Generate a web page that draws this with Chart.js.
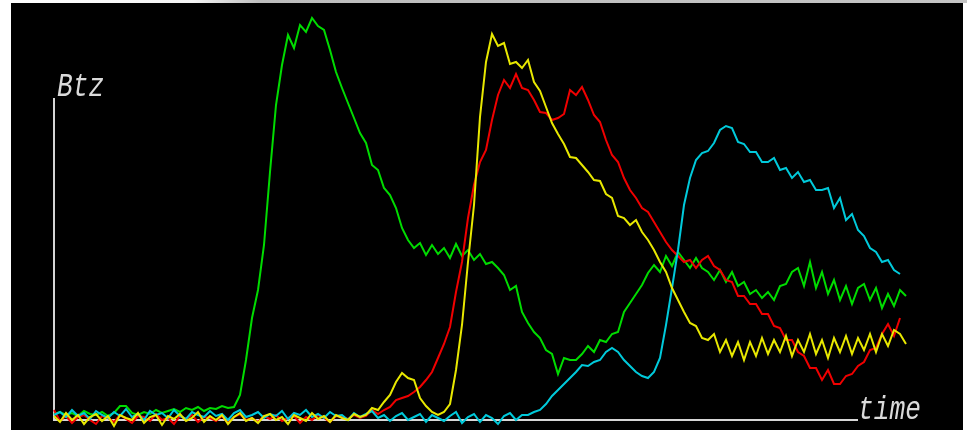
<!DOCTYPE html>
<html>
<head>
<meta charset="utf-8">
<script src="https://cdn.jsdelivr.net/npm/chart.js@4.4.1/dist/chart.umd.min.js"></script>
<style>
  html, body { margin: 0; padding: 0; background: #fff; }
  #wrap { position: relative; width: 967px; height: 430px; }
</style>
</head>
<body>
<div id="wrap"><canvas id="c" width="967" height="430"></canvas></div>
<script>
// readings of the four channels, one sample per step along "time"
var greenBtz = [4,6,3,5,2,7,4,3,6,2,5,12,12,5,3,6,4,8,5,7,9,6,10,8,11,7,10,9,12,10,
  11,23,58,100,128,173,246,313,353,383,370,393,386,400,392,388,368,346,330,315,
  300,285,275,253,248,230,223,210,190,178,170,175,163,173,164,170,160,174,162,168,
  158,164,154,156,150,143,128,132,106,95,86,80,68,64,44,60,58,58,64,72,
  66,78,76,84,86,106,115,124,133,145,153,146,162,152,166,158,150,160,150,146,
  138,148,136,146,132,136,124,128,120,126,118,132,134,146,150,132,156,130,146,124,
  138,118,132,114,130,134,118,130,110,124,112,128,122]

var yellowBtz = [2,-4,5,-2,3,-6,1,4,-3,2,-8,3,0,-2,5,-5,1,3,-7,2,-1,4,-3,0,6,-4,2,-2,3,-6,
  1,5,-3,0,-5,2,4,-2,1,-6,3,0,-3,5,-1,2,-4,3,0,-2,4,1,3,
  10,8,16,23,36,45,40,38,20,12,6,3,6,14,48,93,156,213,301,356,384,372,375,354,356,350,
  358,336,327,311,295,284,274,261,260,253,246,238,237,224,220,202,200,193,198,186,
  178,168,156,146,130,118,106,95,92,80,78,84,66,78,62,76,58,76,62,80,
  64,78,66,82,62,78,66,84,64,78,60,80,66,82,64,80,68,84,66,84,72,88,84,74]

var redBtz = [8,-3,2,-5,1,3,-2,-6,2,0,-4,3,-1,-5,2,1,-3,4,-2,0,-6,2,-1,3,-4,1,0,-3,2,-5,
  1,4,-2,0,-4,2,-1,3,-3,0,2,-5,1,-2,3,0,-4,2,1,-1,3,0,2,
  8,4,8,11,18,20,22,26,31,38,46,60,74,91,126,156,200,233,256,268,298,323,338,330,344,330,
  328,318,306,305,298,300,304,328,323,331,318,303,296,278,263,256,240,228,220,210,
  206,196,186,176,168,162,156,158,150,158,162,152,148,138,136,122,122,114,114,104,
  104,92,90,78,78,66,62,50,50,38,48,34,34,42,44,52,56,68,70,84,94,82,100]

var cyanBtz = [3,6,1,8,2,5,-1,7,3,0,6,2,9,1,4,-2,7,3,5,0,8,2,-1,6,3,1,7,2,4,-2,
  5,8,1,3,6,0,4,2,7,-1,5,3,8,1,4,0,6,2,3,-2,5,1,4,7,0,3,-3,2,5,-2,
  1,4,-4,3,0,-3,2,6,-5,1,4,-4,3,0,-6,2,5,-2,3,
  3,6,8,14,22,28,34,40,46,53,52,56,58,66,70,66,58,52,46,42,40,46,60,93,130,168,213,240,258,265,
  267,275,288,292,290,276,274,266,266,256,256,260,248,250,240,246,236,238,228,228,
  230,210,220,198,204,188,182,170,166,156,158,148,144]

var steps = greenBtz.map(function(v, i) { return i })
var axisTop = 320      // where the Btz axis line stops
var axisBase = -2      // level of the time axis line
var axisEnd = 134      // step where the time axis line stops

var panelPlugin = {
  id: 'panel',
  beforeDraw: function(chart) {
    var ctx = chart.ctx
    ctx.save()
    ctx.fillStyle = '#ffffff'
    ctx.fillRect(0, 0, 967, 430)
    var g = ctx.createLinearGradient(0, 0, 967, 0)
    g.addColorStop(0, '#ffffff')
    g.addColorStop(0.2, '#f4f4f4')
    g.addColorStop(0.27, '#bdbdbd')
    g.addColorStop(1, '#c4c4c4')
    ctx.fillStyle = g
    ctx.fillRect(11, 0, 956, 3)
    ctx.fillStyle = '#000000'
    ctx.fillRect(11, 3, 952, 427)
    ctx.restore()
  },
  beforeDatasetsDraw: function(chart) {
    var ctx = chart.ctx
    var xs = chart.scales.x, ys = chart.scales.y
    var x0 = xs.getPixelForValue(0)
    var yb = ys.getPixelForValue(axisBase)
    ctx.save()
    ctx.strokeStyle = '#d6d6d6'
    ctx.lineWidth = 2
    ctx.beginPath()
    ctx.moveTo(x0, ys.getPixelForValue(axisTop))
    ctx.lineTo(x0, yb)
    ctx.lineTo(xs.getPixelForValue(axisEnd), yb)
    ctx.stroke()

    ctx.fillStyle = '#dadada'
    ctx.font = 'italic 28px "Liberation Mono"'
    ctx.textBaseline = 'alphabetic'
    ctx.save()
    ctx.translate(x0 + 3, ys.getPixelForValue(axisTop) - 2)
    ctx.scale(0.935, 1.2)
    ctx.fillText('Btz', 0, 0)
    ctx.restore()
    ctx.save()
    ctx.translate(xs.getPixelForValue(axisEnd), yb - 1)
    ctx.scale(0.935, 1.2)
    ctx.fillText('time', 0, 0)
    ctx.restore()
    ctx.restore()
  }
}

function line(data, color) {
  return {
    data: data,
    borderColor: color,
    borderWidth: 2,
    pointRadius: 0,
    tension: 0,
    fill: false
  }
}

new Chart(document.getElementById('c'), {
  type: 'line',
  data: {
    labels: steps,
    datasets: [
      line(yellowBtz, '#e8e800'),
      line(cyanBtz, '#00cadb'),
      line(redBtz, '#f00000'),
      line(greenBtz, '#00dc00')
    ]
  },
  options: {
    responsive: false,
    animation: false,
    events: [],
    layout: { padding: { left: 54, right: 61, top: 0, bottom: 0 } },
    plugins: { legend: { display: false }, tooltip: { enabled: false } },
    scales: {
      x: { display: false, offset: false },
      y: { display: false, min: -12, max: 418 }
    }
  },
  plugins: [panelPlugin]
})
</script>
</body>
</html>
